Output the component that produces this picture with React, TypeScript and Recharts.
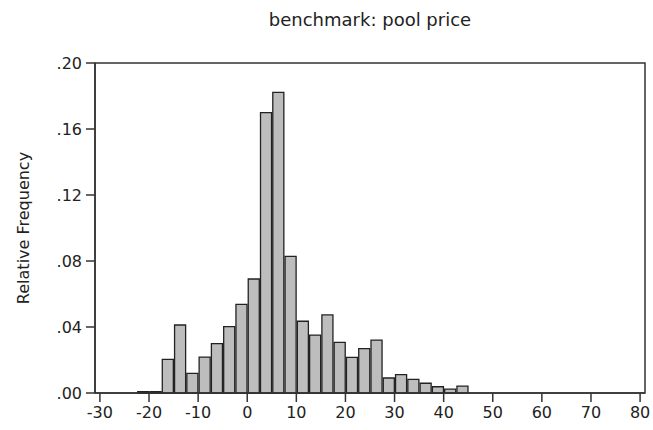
import { BarChart, Bar, XAxis, YAxis, ReferenceArea } from 'recharts';

// histogram bins are 2.5 wide, values are bin centres
const binCenters = [
  -21.25, -18.75, -16.25, -13.75, -11.25, -8.75, -6.25, -3.75, -1.25,
  1.25, 3.75, 6.25, 8.75, 11.25, 13.75, 16.25, 18.75, 21.25, 23.75,
  26.25, 28.75, 31.25, 33.75, 36.25, 38.75, 41.25, 43.75,
];
const relFreq = [
  0.0008, 0.0008, 0.0204, 0.0412, 0.0119, 0.0218, 0.0299, 0.0402, 0.0537,
  0.0691, 0.1699, 0.1822, 0.0828, 0.0435, 0.0351, 0.0473, 0.0307, 0.0216, 0.0269,
  0.0321, 0.0091, 0.0111, 0.0082, 0.0059, 0.0038, 0.0024, 0.0042,
];
const xTicks = [-30, -20, -10, 0, 10, 20, 30, 40, 50, 60, 70, 80];
const yTicks = [0, 0.04, 0.08, 0.12, 0.16, 0.2];
const chartTitle = 'benchmark: pool price';
const yLabel = 'Relative Frequency';

const data = binCenters.map((x, i) => ({ x, freq: relFreq[i] }));

const X_MIN = -31;
const X_MAX = 81;
const BIN = 2.5;
const PLOT_W = 550;
const barSize = (PLOT_W / (X_MAX - X_MIN)) * BIN;

const font = 'DejaVu Sans, sans-serif';
const ink = '#333';

export default function App() {
  return (
    <div style={{ position: 'fixed', left: 0, top: 0, width: 653, height: 430, background: '#fff' }}>
      <div
        style={{
          position: 'absolute',
          left: 95,
          top: 11,
          width: 550,
          textAlign: 'center',
          fontFamily: font,
          fontSize: 18,
          lineHeight: '18px',
          color: '#222',
        }}
      >
        {chartTitle}
      </div>
      <BarChart
        width={653}
        height={430}
        data={data}
        margin={{ top: 63, right: 8, bottom: 7, left: 0 }}
        barCategoryGap={0}
        barGap={0}
      >
        <XAxis
          dataKey="x"
          type="number"
          domain={[X_MIN, X_MAX]}
          ticks={xTicks}
          height={30}
          tickSize={9}
          tickMargin={5}
          axisLine={{ stroke: ink, strokeWidth: 1.5 }}
          tickLine={{ stroke: ink, strokeWidth: 1.5 }}
          tick={{ fill: '#222', fontSize: 16, fontFamily: font }}
          interval={0}
        />
        <YAxis
          type="number"
          domain={[0, 0.2]}
          ticks={yTicks}
          width={95}
          tickSize={9}
          tickMargin={4}
          axisLine={{ stroke: ink, strokeWidth: 1.5 }}
          tickLine={{ stroke: ink, strokeWidth: 1.5 }}
          tick={{ fill: '#222', fontSize: 16, fontFamily: font }}
          tickFormatter={(v: number) => v.toFixed(2).replace(/^0/, '')}
          interval={0}
          label={() => (
            <text
              x={23}
              y={228}
              transform="rotate(-90 23 228)"
              textAnchor="middle"
              dominantBaseline="central"
              fontFamily={font}
              fontSize={16}
              fill="#222"
            >
              {yLabel}
            </text>
          )}
        />
        <Bar
          dataKey="freq"
          fill="#bdbdbd"
          stroke="#222"
          strokeWidth={1.3}
          barSize={barSize}
          isAnimationActive={false}
        />
        <ReferenceArea
          x1={X_MIN}
          x2={X_MAX}
          y1={0}
          y2={0.2}
          fill="none"
          stroke={ink}
          strokeWidth={1.5}
        />
      </BarChart>
    </div>
  );
}
